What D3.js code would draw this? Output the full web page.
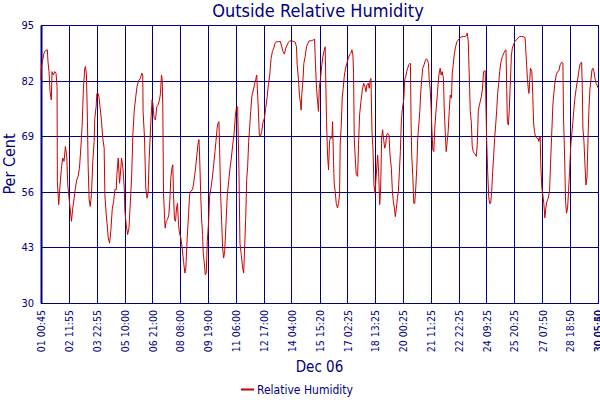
<!DOCTYPE html>
<html>
<head>
<meta charset="utf-8">
<script src="https://cdn.jsdelivr.net/npm/d3@7"></script>
<style>
  body { margin: 0; background: #fff; }
  svg text { font-family: "DejaVu Sans Condensed", "DejaVu Sans", sans-serif; font-stretch: condensed; fill: #000080; }
</style>
</head>
<body>
<div class="graph"></div>
<script>
// readings: hours since 01 Dec 00:45, relative humidity %
const hours = [
  0, 0.4, 2.1, 3.8, 5.5, 8.0, 8.8, 10.1, 11.4, 13.0, 13.9, 15.6, 17.3, 18.9, 20.2, 20.6, 22.3, 24.0, 25.7, 27.3,
  29.0, 30.7, 32.4, 33.7, 34.9, 36.6, 38.3, 40.0, 41.7, 43.3, 45.0, 46.7, 48.4, 50.1, 51.8, 53.4, 55.1, 56.0, 57.2, 58.5,
  59.3, 60.6, 61.9, 63.5, 65.2, 66.9, 67.7, 69.4, 70.3, 71.9, 73.2, 74.5, 76.2, 77.8, 79.5, 80.4, 82.1, 83.7, 84.6, 86.3,
  88.0, 89.6, 91.3, 93.0, 94.7, 95.5, 97.2, 98.9, 99.7, 101.4, 103.1, 104.8, 105.6, 107.3, 109.0, 110.7, 112.4, 114.0, 115.7, 117.4,
  119.1, 120.8, 122.0, 122.6, 125.1, 126.8, 128.1, 128.5, 130.2, 131.9, 133.5, 134.8, 136.1, 137.3, 138.6, 139.8, 140.7, 142.4, 144.1, 145.7,
  147.4, 149.1, 150.4, 151.6, 152.5, 153.3, 154.2, 155.4, 156.3, 157.5, 159.2, 160.9, 162.1, 163.4, 164.7, 165.9, 166.8, 168.0, 169.3, 170.6,
  171.8, 173.1, 174.3, 176.0, 177.7, 179.4, 181.1, 182.3, 184.0, 185.7, 187.0, 188.7, 190.8, 192.4, 194.1, 195.8, 197.5, 198.8, 199.6, 200.9,
  202.1, 203.4, 204.2, 205.5, 206.8, 208.0, 209.3, 211.0, 212.2, 213.9, 215.6, 217.3, 219.0, 220.2, 221.5, 222.7, 224.0, 224.8, 226.1, 227.4,
  228.6, 229.9, 231.2, 232.8, 234.5, 236.2, 237.9, 239.6, 241.3, 242.9, 244.6, 245.8, 247.5, 248.3, 249.2, 250.4, 252.1, 253.8, 255.1, 256.3,
  257.6, 258.9, 260.1, 261.4, 262.6, 263.9, 265.6, 267.3, 269.0, 270.2, 271.5, 272.3, 273.6, 274.8, 276.1, 277.8, 279.5, 281.2, 282.8, 284.5,
  286.2, 287.9, 289.6, 291.3, 292.9, 294.6, 296.3, 298.8, 301.4, 303.0, 304.7, 306.4, 308.1, 309.8, 311.5, 313.1, 315.7, 318.2, 319.9, 321.6,
  322.4, 324.1, 325.3, 326.6, 327.4, 328.3, 329.5, 330.8, 332.5, 334.2, 335.9, 337.5, 340.1, 342.6, 344.3, 345.5, 346.8, 348.1, 349.3, 350.2,
  351.8, 353.5, 354.8, 356.1, 357.7, 358.6, 359.4, 360.7, 361.9, 363.2, 364.5, 366.2, 367.0, 367.8, 368.2, 369.0, 370.3, 371.6, 373.2, 374.5,
  375.8, 376.6, 377.9, 379.1, 380.4, 381.7, 383.3, 385.0, 386.7, 388.4, 390.1, 391.3, 392.6, 393.4, 394.3, 395.5, 396.8, 398.5, 399.7, 401.0,
  402.7, 404.4, 406.1, 407.7, 409.0, 410.3, 411.9, 413.2, 414.5, 415.3, 416.6, 417.8, 419.1, 420.4, 422.0, 423.7, 425.0, 426.3, 427.5, 428.8,
  430.0, 431.3, 432.6, 433.8, 435.1, 436.3, 438.0, 439.3, 441.0, 442.2, 443.5, 444.8, 446.0, 447.3, 448.6, 449.8, 451.1, 452.3, 453.6, 454.9,
  456.6, 457.8, 459.1, 460.3, 461.6, 462.9, 464.1, 465.0, 465.8, 466.6, 467.9, 469.2, 470.4, 471.7, 473.0, 474.2, 475.5, 476.8, 478.0, 479.3,
  480.5, 482.2, 483.9, 485.2, 486.4, 487.7, 488.5, 489.8, 491.1, 491.9, 493.2, 494.4, 495.7, 497.4, 499.1, 500.8, 502.4, 503.7, 505.0, 506.6,
  507.5, 508.8, 510.0, 511.3, 512.5, 513.8, 515.1, 516.7, 517.6, 518.9, 520.1, 521.8, 523.5, 525.2, 526.8, 528.9, 531.0, 533.6, 535.3, 536.5,
  537.8, 538.6, 539.5, 540.3, 541.6, 542.8, 544.1, 545.4, 546.6, 547.9, 549.1, 550.4, 551.7, 552.9, 554.2, 555.5, 557.1, 559.2, 560.1, 560.9,
  562.2, 563.5, 564.7, 566.0, 567.3, 568.5, 569.8, 571.0, 572.3, 573.6, 574.8, 576.1, 577.3, 579.0, 580.7, 582.4, 584.1, 585.3, 586.2, 587.0,
  588.3, 589.5, 590.8, 592.1, 593.3, 594.6, 596.3, 598.4, 600.5, 602.6, 605.1, 606.8, 609.3, 611.0, 612.3, 613.5, 614.2, 616.1, 617.8, 619.0,
  619.9, 621.1, 622.4, 624.1, 625.8, 626.6, 628.3, 629.1, 630.4, 631.6, 632.9, 634.2, 635.4, 636.7, 638.4, 640.1, 641.3, 642.6, 644.3, 645.5,
  646.8, 648.5, 650.2, 651.8, 653.5, 655.2, 656.9, 657.7, 659.0, 660.3, 661.5, 662.8, 664.0, 665.3, 666.6, 667.8, 669.5, 670.8, 672.0, 673.7,
  675.0, 676.3, 677.5, 678.8, 680.5, 681.3, 682.1, 683.4, 684.7, 685.9, 687.2, 688.5, 689.7, 691.0, 692.2, 693.5, 694.8, 696.0, 697.3, 698.6,
  699.8, 701.0
];

const humidity = [
  82.3, 84.9, 86.8, 88.4, 89.0, 89.2, 86.4, 84.1, 79.4, 77.5, 84.1, 83.3, 84.1, 83.7, 80.6, 58.4, 53.0, 57.6, 61.5, 63.9,
  63.1, 66.6, 64.3, 57.6, 55.3, 52.2, 49.1, 52.2, 54.5, 56.9, 58.8, 59.6, 61.5, 66.2, 71.6, 80.2, 84.9, 85.3, 83.3, 72.4,
  62.3, 54.1, 52.6, 55.3, 63.1, 67.8, 73.2, 75.9, 79.0, 79.0, 77.9, 75.5, 72.4, 68.5, 66.2, 55.3, 50.6, 47.5, 45.2, 44.0,
  47.1, 51.8, 53.7, 56.5, 56.5, 60.0, 63.9, 58.0, 59.6, 63.9, 61.5, 56.9, 51.4, 48.3, 46.0, 47.5, 53.3, 59.2, 69.7, 75.1,
  77.9, 80.6, 81.4, 81.9, 82.5, 83.7, 83.3, 74.8, 68.9, 56.9, 54.5, 55.7, 63.5, 68.5, 73.6, 77.5, 76.7, 73.2, 72.8, 75.9,
  76.3, 77.5, 79.0, 83.3, 82.5, 76.3, 55.7, 50.6, 47.5, 49.1, 49.5, 50.6, 53.7, 59.2, 61.5, 62.3, 55.3, 49.5, 49.1, 52.2,
  53.3, 48.3, 46.4, 45.2, 42.9, 39.7, 37.0, 38.2, 45.2, 50.6, 55.3, 56.2, 56.5, 58.4, 60.7, 63.9, 67.0, 68.2, 64.6, 56.1,
  49.8, 46.0, 41.7, 39.3, 36.6, 37.0, 44.4, 49.1, 54.9, 56.9, 59.2, 62.3, 65.4, 67.8, 70.5, 72.0, 72.4, 66.2, 55.3, 49.1,
  42.9, 40.5, 42.1, 48.3, 55.3, 58.4, 61.5, 63.9, 67.0, 69.3, 73.6, 75.5, 75.9, 68.5, 60.4, 44.0, 41.3, 38.2, 37.0, 42.9,
  49.5, 58.8, 61.9, 67.8, 70.9, 74.8, 78.6, 79.8, 81.4, 82.2, 83.3, 80.2, 75.1, 69.3, 68.9, 70.1, 72.4, 73.2, 75.5, 77.9,
  81.0, 83.3, 87.2, 88.8, 89.6, 90.7, 91.1, 91.1, 91.1, 89.9, 88.8, 88.2, 89.6, 90.3, 91.0, 91.3, 91.3, 91.1, 91.0, 89.9,
  85.7, 82.2, 78.6, 76.7, 75.1, 79.0, 81.4, 86.0, 87.6, 89.9, 90.7, 91.3, 91.3, 91.5, 91.7, 85.7, 80.2, 77.1, 74.8, 80.2,
  82.5, 85.7, 87.6, 88.8, 89.9, 80.2, 72.4, 64.6, 61.1, 67.8, 68.9, 68.5, 72.4, 66.2, 63.1, 58.0, 56.1, 53.3, 52.2, 53.3,
  55.3, 67.0, 71.6, 77.9, 80.2, 83.0, 84.9, 86.0, 87.2, 88.0, 88.4, 89.2, 88.0, 83.7, 68.5, 63.9, 60.0, 59.6, 67.0, 74.0,
  77.1, 79.8, 81.4, 80.6, 79.4, 81.0, 81.4, 80.2, 82.2, 82.5, 70.1, 66.2, 57.6, 55.7, 60.0, 64.6, 60.7, 53.0, 56.9, 68.9,
  70.5, 68.2, 66.2, 67.0, 69.3, 69.7, 69.3, 64.6, 61.5, 56.5, 53.7, 52.2, 50.2, 52.2, 54.5, 56.1, 60.7, 65.4, 72.8, 75.5,
  77.5, 82.2, 83.0, 84.1, 84.9, 85.7, 86.0, 86.0, 72.4, 64.6, 60.0, 53.3, 53.3, 56.9, 61.5, 68.5, 71.6, 74.8, 79.4, 82.5,
  84.9, 85.7, 86.8, 87.1, 86.8, 86.0, 82.5, 80.2, 75.5, 70.9, 65.8, 65.4, 70.9, 75.5, 79.4, 83.3, 84.9, 83.3, 84.1, 82.5,
  75.5, 70.1, 65.4, 67.8, 70.1, 74.8, 78.6, 77.9, 83.7, 85.7, 88.0, 89.9, 91.1, 91.5, 91.9, 92.2, 92.3, 92.3, 92.5, 93.1,
  91.1, 85.7, 80.2, 74.8, 72.4, 66.6, 65.4, 65.0, 64.8, 64.3, 67.0, 74.8, 76.3, 77.1, 78.2, 79.8, 84.1, 84.3, 75.5, 68.5,
  60.7, 54.9, 53.3, 53.3, 56.1, 60.7, 64.6, 68.5, 71.6, 75.1, 79.0, 81.4, 84.1, 86.4, 87.6, 88.4, 89.0, 89.2, 80.2, 72.4,
  71.6, 75.5, 81.8, 88.0, 89.6, 90.3, 91.1, 91.5, 92.0, 92.3, 92.3, 92.3, 92.0, 86.4, 82.2, 79.8, 79.0, 84.9, 84.1, 78.6,
  72.4, 70.1, 68.9, 68.5, 68.5, 67.8, 68.9, 62.3, 56.9, 55.3, 53.3, 49.9, 52.2, 53.7, 54.5, 56.1, 62.3, 68.5, 76.3, 79.0,
  81.4, 83.3, 84.1, 84.3, 85.7, 86.3, 86.1, 73.2, 64.6, 53.7, 51.0, 52.2, 56.1, 60.7, 66.2, 68.9, 72.4, 75.5, 77.9, 80.2,
  81.8, 83.3, 84.9, 86.0, 86.3, 80.2, 70.9, 67.8, 62.3, 57.6, 59.2, 68.5, 75.5, 80.2, 82.2, 84.5, 84.9, 84.1, 82.5, 81.4,
  81.0, 80.3
];

const xTickLabels = [
  "01 00:45", "02 11:55", "03 22:55", "05 10:00", "06 21:00", "08 08:00", "09 19:00", "11 06:00",
  "12 17:00", "14 04:00", "15 15:20", "17 02:25", "18 13:25", "20 00:25", "21 11:25", "22 22:25",
  "24 09:25", "25 20:25", "27 07:50", "28 18:50", "30 05:40", "30 05:50"
];
const yTicks = [30, 43, 56, 69, 82, 95];

const width = 600,
      height = 400,
      margin = {top: 25, right: 2, bottom: 97, left: 41};

const navy = "#000080";
const parseLabel = d3.timeParse("%Y-%m-%d %H:%M");
const toDate = s => parseLabel("2006-12-" + s);

const start = toDate(xTickLabels[0]);
const tickDates = xTickLabels.map(toDate);
const data = hours.map((h, i) => ({date: new Date(+start + h * 36e5), value: humidity[i]}));

const xScale = d3.scaleTime()
  .domain([start, tickDates[tickDates.length - 1]])
  .range([margin.left, width - margin.right]);

const yScale = d3.scaleLinear()
  .domain([30, 95])
  .range([height - margin.bottom, margin.top]);

const svg = d3.select(".graph")
  .append("svg")
  .attr("width", width)
  .attr("height", height);

// horizontal grid + y labels
svg.append("g")
  .attr("transform", `translate(${margin.left},0)`)
  .call(d3.axisLeft(yScale).tickValues(yTicks).tickSize(-(width - margin.left - margin.right)).tickSizeOuter(0).tickPadding(7))
  .call(g => g.select(".domain").attr("stroke", navy).attr("stroke-width", 2))
  .call(g => g.selectAll(".tick line").attr("stroke", navy).attr("shape-rendering", "crispEdges"))
  .call(g => g.selectAll(".tick text").attr("font-size", 11));

// vertical grid + rotated x labels
svg.append("g")
  .attr("transform", `translate(0,${height - margin.bottom})`)
  .call(d3.axisBottom(xScale).tickValues(tickDates).tickFormat((d, i) => xTickLabels[i])
    .tickSize(-(height - margin.top - margin.bottom)).tickSizeOuter(0))
  .call(g => g.select(".domain").attr("stroke", navy).attr("shape-rendering", "crispEdges"))
  .call(g => g.selectAll(".tick line").attr("stroke", navy).attr("shape-rendering", "crispEdges"))
  .call(g => g.selectAll(".tick text")
    .attr("font-size", 10.5)
    .attr("transform", "rotate(-90)")
    .attr("text-anchor", "end")
    .attr("x", -7)
    .attr("y", 0)
    .attr("dy", "0.35em"));

const line = d3.line()
  .x(d => xScale(d.date))
  .y(d => yScale(d.value));

svg.append("path")
  .datum(data)
  .attr("fill", "none")
  .attr("stroke", "#cc0000")
  .attr("stroke-width", 1)
  .attr("d", line);

svg.append("text")
  .attr("x", 318)
  .attr("y", 17)
  .attr("text-anchor", "middle")
  .attr("font-size", 18)
  .text("Outside Relative Humidity");

svg.append("text")
  .attr("transform", "translate(15,164) rotate(-90)")
  .attr("text-anchor", "middle")
  .attr("font-size", 16)
  .text("Per Cent");

svg.append("text")
  .attr("x", 319.5)
  .attr("y", 372)
  .attr("text-anchor", "middle")
  .attr("font-size", 15)
  .text("Dec 06");

// legend
svg.append("line")
  .attr("x1", 241).attr("x2", 254)
  .attr("y1", 389.5).attr("y2", 389.5)
  .attr("stroke", "#cc0000")
  .attr("stroke-width", 2);

svg.append("text")
  .attr("x", 257)
  .attr("y", 394)
  .attr("font-size", 12)
  .text("Relative Humidity");
</script>
</body>
</html>
